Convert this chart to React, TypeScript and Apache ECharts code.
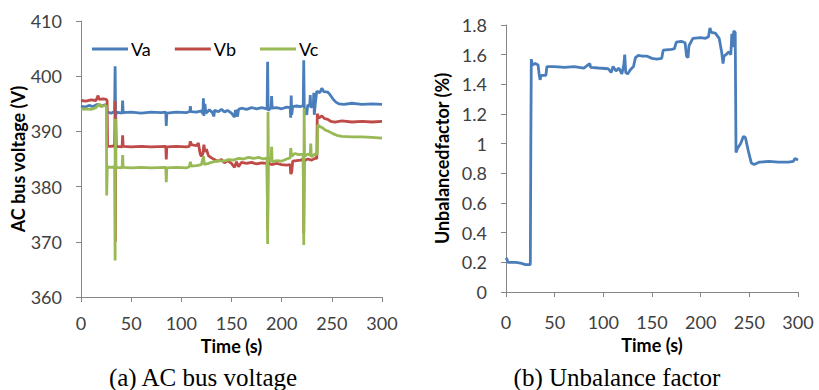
import React, { useEffect, useRef } from "react";
import * as echarts from "echarts";

// ---- Data ----
const timeTicks = [0, 50, 100, 150, 200, 250, 300];
const seriesNames = ["Va", "Vb", "Vc"];
const captions = ["(a) AC bus voltage", "(b) Unbalance factor"];

const vaData: [number, number][] = [
  [0, 394.6], [4, 394.4], [8, 394.7], [12, 394.5], [16, 394.9], [20, 394.6], [24, 394.8], [25.5, 394.7],
  [26, 393.5], [30, 393.3], [33.5, 393.6], [34, 401.8], [34.5, 392.5], [35, 393.5], [38, 393.4], [41, 393.3],
  [41.5, 395.6], [42, 393.4], [50, 393.5], [60, 393.3], [70, 393.5], [80, 393.4], [84.5, 393.5], [85, 391.0],
  [85.5, 393.3], [95, 393.5], [105, 393.4], [108.5, 393.6], [109, 394.6], [109.5, 393.6], [115, 393.5],
  [120, 393.7], [121.5, 393.2], [122, 396.0], [122.5, 392.8], [123.5, 395.0], [124.5, 393.3], [128, 393.9],
  [131, 393.4], [132.5, 392.7], [133, 393.8], [137, 393.6], [140, 394.0], [143, 393.5], [146, 393.8],
  [150, 393.3], [153, 392.6], [154, 393.9], [156, 392.7], [157, 394.0], [160, 394.2], [165, 394.0],
  [170, 394.3], [175, 394.1], [180, 394.3], [185.5, 394.1], [186, 402.6], [186.5, 393.8], [189.5, 394.3],
  [190, 396.4], [190.5, 394.2], [195, 394.3], [200, 394.1], [205, 394.4], [208.5, 394.3], [209, 392.5],
  [209.5, 396.5], [210, 393.0], [211, 394.5], [215, 394.6], [219, 394.5], [221.5, 394.7], [222, 402.9],
  [222.5, 394.4], [225, 393.0], [226, 394.8], [228, 394.6], [228.5, 396.6], [229, 394.4], [231.5, 394.6],
  [232, 397.0], [232.5, 393.0], [233.5, 395.0], [235, 397.3], [238, 397.0], [240, 397.8], [242, 397.2],
  [246, 397.1], [248, 396.7], [251, 395.9], [254, 395.3], [257, 395.0], [262, 394.9], [270, 395.1],
  [280, 394.9], [290, 395.0], [300, 394.9],
];

const vbData: [number, number][] = [
  [0, 395.6], [5, 395.5], [10, 395.7], [15, 395.6], [17, 396.5], [18, 395.8], [22, 395.9], [25, 395.8],
  [26, 395.6], [26.5, 387.3], [30, 387.3], [33.5, 387.4], [34, 395.5], [34.3, 370.0], [34.7, 392.5],
  [35.2, 387.3], [41, 387.2], [41.5, 389.3], [42, 387.3], [50, 387.2], [60, 387.3], [70, 387.2],
  [84.5, 387.3], [85, 384.9], [85.5, 387.2], [95, 387.3], [105, 387.2], [108, 387.3], [109, 388.2],
  [110, 387.6], [115, 387.4], [117, 387.9], [118, 386.7], [119, 385.8], [120, 385.5], [121.5, 386.0],
  [122.5, 387.6], [123.5, 386.3], [125, 386.8], [127, 385.6], [130, 385.2], [133, 384.9], [136, 384.6],
  [140, 384.9], [143, 384.3], [146, 384.7], [150, 384.2], [153, 383.5], [155, 384.5], [157, 383.6],
  [160, 384.4], [165, 384.2], [170, 384.4], [175, 384.1], [180, 384.3], [185.5, 384.2], [186, 372.0],
  [186.5, 384.3], [190, 384.0], [195, 384.2], [200, 384.0], [205, 383.9], [208.5, 384.0], [209, 382.3],
  [210, 382.6], [211, 384.6], [215, 384.7], [219, 384.8], [221.5, 385.0], [222, 371.5], [222.5, 384.7],
  [226, 385.0], [230, 384.8], [234, 385.2], [235, 385.0], [235.5, 393.2], [237, 392.4], [240, 392.8],
  [243, 392.3], [246, 392.2], [249, 391.8], [253, 391.7], [260, 391.9], [270, 391.7], [280, 391.8],
  [290, 391.7], [300, 391.8],
];

const vcData: [number, number][] = [
  [0, 394.0], [5, 394.1], [10, 394.0], [15, 394.3], [18, 395.0], [20, 394.5], [24, 394.7], [25.3, 394.6],
  [25.6, 378.4], [26.2, 383.6], [30, 383.5], [33.5, 383.6], [34, 366.6], [34.4, 392.3], [34.8, 383.5],
  [41, 383.4], [41.5, 385.7], [42, 383.5], [50, 383.4], [60, 383.5], [70, 383.4], [84.5, 383.5],
  [85, 380.8], [85.5, 383.4], [95, 383.5], [105, 383.4], [108, 383.6], [109, 384.5], [110, 383.7],
  [115, 383.8], [120, 384.0], [122, 385.5], [123, 384.0], [127, 384.2], [132, 384.5], [137, 384.7],
  [142, 384.6], [147, 384.9], [152, 384.8], [157, 385.1], [162, 385.0], [167, 385.3], [172, 385.1],
  [177, 385.3], [182, 385.0], [185.5, 385.2], [186, 369.6], [186.4, 393.5], [186.8, 384.6], [189.5, 384.8],
  [190, 387.2], [190.5, 384.5], [195, 384.7], [200, 384.6], [205, 385.0], [208.5, 385.2], [209, 387.0],
  [210, 385.5], [213, 386.0], [217, 385.8], [221.5, 385.9], [222, 369.4], [222.4, 394.2], [222.8, 385.5],
  [226, 385.9], [228.5, 385.7], [229, 387.8], [229.5, 385.4], [233, 385.9], [235.5, 385.9], [236, 391.2],
  [238, 390.9], [241, 390.6], [244, 390.2], [247, 390.0], [251, 389.6], [255, 389.3], [260, 389.1],
  [270, 389.0], [280, 389.0], [290, 388.9], [300, 388.8],
];

const ufData: [number, number][] = [
  [0, 0.23], [1, 0.22], [2, 0.2], [10, 0.2], [15, 0.195], [20, 0.185], [25, 0.185], [25.5, 1.0], [26, 1.57],
  [27, 1.53], [30, 1.54], [33, 1.53], [34, 1.47], [35, 1.43], [36, 1.46], [41, 1.46], [42, 1.52], [50, 1.52],
  [60, 1.515], [70, 1.52], [80, 1.51], [86, 1.54], [87, 1.515], [95, 1.51], [105, 1.505], [108, 1.48],
  [110, 1.52], [113, 1.49], [116, 1.51], [119, 1.47], [121, 1.53], [122, 1.6], [123, 1.48], [125, 1.47],
  [128, 1.5], [131, 1.52], [133, 1.58], [136, 1.595], [140, 1.59], [145, 1.59], [150, 1.575], [155, 1.57],
  [160, 1.575], [161.5, 1.63], [170, 1.635], [173, 1.64], [175, 1.685], [180, 1.69], [184, 1.68],
  [185.5, 1.59], [187, 1.58], [188, 1.66], [192, 1.71], [200, 1.715], [205, 1.71], [208, 1.72],
  [209.5, 1.78], [211, 1.75], [215, 1.745], [219, 1.71], [221.5, 1.62], [223, 1.54], [224, 1.59],
  [226, 1.6], [229, 1.62], [231, 1.6], [232, 1.74], [233, 1.65], [234, 1.76], [235.5, 1.75], [236.3, 0.94],
  [238, 0.97], [241, 1.0], [244, 1.05], [246, 1.04], [249, 0.95], [252, 0.87], [255, 0.86], [260, 0.875],
  [270, 0.88], [280, 0.875], [290, 0.875], [295, 0.88], [297, 0.9], [300, 0.89],
];

const colors = ["#4A7EBB", "#BE4B48", "#98B954"];
const axisGray = "#868686";
const labelColor = "#404040";
const sansFont = "Lato, 'Open Sans', sans-serif";

export default function App() {
  const ref = useRef<HTMLDivElement>(null);

  useEffect(() => {
    if (!ref.current) return;
    const chart = echarts.init(ref.current, undefined, { renderer: "svg" });

    const axisCommon = {
      axisLine: { show: true, lineStyle: { color: axisGray, width: 1 } },
      axisTick: { show: true, length: 5, lineStyle: { color: axisGray } },
      splitLine: { show: false },
      axisLabel: { color: labelColor, fontFamily: sansFont, fontSize: 18 },
      nameTextStyle: { color: "#000", fontFamily: sansFont, fontSize: 18, fontWeight: "bold" },
      nameLocation: "middle" as const,
    };

    const xCommon = {
      ...axisCommon,
      type: "value" as const,
      min: timeTicks[0],
      max: timeTicks[timeTicks.length - 1],
      interval: timeTicks[1] - timeTicks[0],
      name: "Time (s)",
    };

    chart.setOption({
      animation: false,
      legend: {
        data: seriesNames,
        left: 87,
        top: 35,
        itemWidth: 36,
        itemHeight: 3,
        itemGap: 24,
        icon: "rect",
        textStyle: { color: "#000", fontFamily: sansFont, fontSize: 18, padding: [0, 0, 0, -2] },
      },
      grid: [
        { left: 81, top: 21, width: 301, height: 276 },
        { left: 506, top: 25, width: 292, height: 267 },
      ],
      xAxis: [
        { ...xCommon, gridIndex: 0, nameGap: 40, axisLabel: { ...axisCommon.axisLabel, margin: 17 } },
        { ...xCommon, gridIndex: 1, nameGap: 42, axisLabel: { ...axisCommon.axisLabel, margin: 21 } },
      ],
      yAxis: [
        {
          ...axisCommon,
          type: "value",
          gridIndex: 0,
          min: 360,
          max: 410,
          interval: 10,
          name: "AC bus voltage (V)",
          nameGap: 53,
          axisLabel: { ...axisCommon.axisLabel, margin: 19 },
        },
        {
          ...axisCommon,
          type: "value",
          gridIndex: 1,
          min: 0,
          max: 1.8,
          interval: 0.2,
          name: "Unbalancedfactor (%)",
          nameGap: 55,
          axisLabel: { ...axisCommon.axisLabel, margin: 19 },
        },
      ],
      series: [
        { name: seriesNames[0], data: vaData, color: colors[0] },
        { name: seriesNames[1], data: vbData, color: colors[1] },
        { name: seriesNames[2], data: vcData, color: colors[2] },
      ]
        .map((s) => ({
          ...s,
          type: "line",
          xAxisIndex: 0,
          yAxisIndex: 0,
          showSymbol: false,
          symbol: "none",
          lineStyle: { width: 2.8, color: s.color },
        }))
        .concat([
          {
            name: "Unbalance factor",
            type: "line",
            data: ufData,
            color: colors[0],
            xAxisIndex: 1,
            yAxisIndex: 1,
            showSymbol: false,
            symbol: "none",
            lineStyle: { width: 2.8, color: colors[0] },
          } as any,
        ]),
      graphic: [
        {
          type: "text",
          x: 203,
          y: 377,
          style: {
            text: captions[0],
            font: "25px 'Liberation Serif', serif",
            fill: "#000",
            textAlign: "center",
            textVerticalAlign: "middle",
          },
        },
        {
          type: "text",
          x: 617,
          y: 377,
          style: {
            text: captions[1],
            font: "25px 'Liberation Serif', serif",
            fill: "#000",
            textAlign: "center",
            textVerticalAlign: "middle",
          },
        },
      ],
    });

    return () => chart.dispose();
  }, []);

  return (
    <div
      ref={ref}
      style={{ position: "fixed", left: 0, top: 0, width: 819, height: 390, background: "#fff" }}
    />
  );
}
